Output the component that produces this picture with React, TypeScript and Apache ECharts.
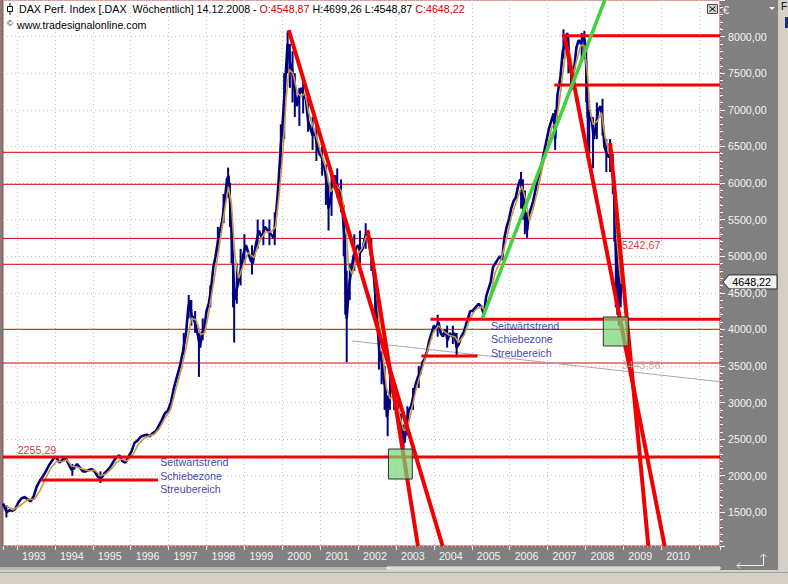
import React, { useEffect, useRef } from "react";
import * as echarts from "echarts";

const FONT = "'Liberation Sans', Arial, Helvetica, sans-serif";
const NAVY = "#000080";
const MA_COLOR = "#c89a3c";
const THIN_RED = "#d80000";
const THICK_RED = "#f00000";

const X_MIN = 1992.63;
const X_MAX = 2011.55;
const Y_MIN = 1040;
const Y_MAX = 8500;
const LAST_CLOSE = 4648.22;

// weekly-close path: [year, price]
const closes: [number, number][] = [
  [1992.63, 1620], [1992.68, 1560], [1992.73, 1500], [1992.8, 1530], [1992.87, 1520], [1992.95, 1545],
  [1993.04, 1640], [1993.12, 1690], [1993.2, 1710], [1993.28, 1680], [1993.36, 1650], [1993.44, 1720],
  [1993.52, 1850], [1993.6, 1930], [1993.68, 1990], [1993.76, 2060], [1993.84, 2140], [1993.92, 2200],
  [1994.0, 2260], [1994.06, 2230], [1994.12, 2180], [1994.2, 2220], [1994.28, 2250], [1994.36, 2160],
  [1994.44, 2080], [1994.5, 2100], [1994.58, 2160], [1994.66, 2110], [1994.74, 2060], [1994.82, 2060],
  [1994.9, 2080], [1994.98, 2090], [1995.06, 2050], [1995.14, 1980], [1995.22, 1960], [1995.3, 2030],
  [1995.38, 2070], [1995.46, 2120], [1995.54, 2190], [1995.62, 2250], [1995.7, 2280], [1995.78, 2200],
  [1995.86, 2180], [1995.94, 2260], [1996.02, 2330], [1996.1, 2450], [1996.18, 2480], [1996.26, 2530],
  [1996.34, 2550], [1996.42, 2560], [1996.5, 2540], [1996.58, 2580], [1996.66, 2610], [1996.74, 2680],
  [1996.82, 2760], [1996.9, 2850], [1996.98, 2890], [1997.06, 3000], [1997.14, 3200], [1997.22, 3350],
  [1997.3, 3500], [1997.38, 3700], [1997.46, 3950], [1997.52, 4300], [1997.56, 4400], [1997.6, 4200],
  [1997.66, 4150], [1997.72, 4050], [1997.78, 3900], [1997.83, 3750], [1997.88, 3950], [1997.94, 4000],
  [1998.0, 4250], [1998.06, 4350], [1998.12, 4550], [1998.18, 4850], [1998.24, 5000], [1998.3, 5200],
  [1998.36, 5350], [1998.42, 5500], [1998.48, 5750], [1998.54, 6050], [1998.58, 6100], [1998.62, 5750],
  [1998.66, 5350], [1998.7, 4900], [1998.74, 4400], [1998.78, 4500], [1998.84, 4650], [1998.9, 4800],
  [1998.96, 5000], [1999.04, 5150], [1999.1, 5050], [1999.16, 4950], [1999.22, 4900], [1999.3, 5150],
  [1999.38, 5350], [1999.46, 5250], [1999.54, 5400], [1999.62, 5350], [1999.7, 5300], [1999.78, 5250],
  [1999.84, 5600], [1999.9, 6000], [1999.96, 6500], [2000.02, 6900], [2000.08, 7400], [2000.14, 7900],
  [2000.2, 7650], [2000.26, 7550], [2000.32, 7300], [2000.38, 7050], [2000.44, 7200], [2000.5, 7300],
  [2000.56, 7200], [2000.62, 7150], [2000.68, 6850], [2000.74, 6750], [2000.8, 6650], [2000.86, 6700],
  [2000.92, 6500], [2000.98, 6400], [2001.04, 6350], [2001.1, 6250], [2001.16, 6050], [2001.22, 5650],
  [2001.28, 5800], [2001.34, 6050], [2001.4, 6100], [2001.46, 5950], [2001.52, 5900], [2001.58, 5700],
  [2001.64, 5250], [2001.7, 4150], [2001.76, 4600], [2001.82, 4800], [2001.88, 5000], [2001.94, 5100],
  [2002.0, 5150], [2002.06, 5050], [2002.12, 5100], [2002.18, 5250], [2002.24, 5350], [2002.3, 5150],
  [2002.36, 4950], [2002.42, 4700], [2002.48, 4300], [2002.52, 4000], [2002.56, 3700], [2002.6, 3600],
  [2002.64, 3550], [2002.68, 3300], [2002.72, 3200], [2002.76, 2800], [2002.8, 2950], [2002.86, 3200],
  [2002.92, 3150], [2002.98, 3000], [2003.04, 2900], [2003.1, 2750], [2003.16, 2600], [2003.22, 2450],
  [2003.28, 2700], [2003.34, 2900], [2003.4, 2950], [2003.46, 3100], [2003.52, 3250], [2003.58, 3350],
  [2003.64, 3400], [2003.7, 3550], [2003.76, 3600], [2003.82, 3700], [2003.88, 3850], [2003.94, 3950],
  [2004.0, 4050], [2004.06, 4000], [2004.12, 4100], [2004.18, 3950], [2004.24, 3900], [2004.3, 4000],
  [2004.36, 3850], [2004.42, 3950], [2004.48, 3900], [2004.54, 3950], [2004.6, 3750], [2004.66, 3800],
  [2004.72, 3900], [2004.78, 3950], [2004.84, 4050], [2004.9, 4150], [2004.96, 4250], [2005.02, 4250],
  [2005.1, 4300], [2005.18, 4350], [2005.26, 4300], [2005.32, 4200], [2005.38, 4450], [2005.44, 4550],
  [2005.5, 4650], [2005.56, 4850], [2005.62, 4900], [2005.68, 4950], [2005.74, 5000], [2005.8, 4950],
  [2005.86, 5250], [2005.92, 5400], [2005.98, 5500], [2006.04, 5650], [2006.1, 5750], [2006.16, 5800],
  [2006.22, 5950], [2006.28, 6050], [2006.33, 5950], [2006.38, 5700], [2006.46, 5350], [2006.5, 5550],
  [2006.56, 5650], [2006.62, 5750], [2006.68, 5900], [2006.74, 6050], [2006.8, 6150], [2006.86, 6300],
  [2006.92, 6450], [2006.98, 6600], [2007.04, 6750], [2007.1, 6850], [2007.16, 6950], [2007.2, 6600],
  [2007.26, 7200], [2007.34, 7450], [2007.4, 7800], [2007.46, 7900], [2007.52, 8050], [2007.56, 7800],
  [2007.6, 7550], [2007.64, 7450], [2007.7, 7550], [2007.76, 7850], [2007.82, 7950], [2007.88, 7900],
  [2007.94, 8000], [2007.98, 7950], [2008.02, 7600], [2008.06, 6900], [2008.1, 6850], [2008.16, 6900],
  [2008.22, 6600], [2008.28, 6800], [2008.34, 7000], [2008.4, 7050], [2008.46, 6800], [2008.5, 6500],
  [2008.56, 6400], [2008.62, 6350], [2008.68, 6450], [2008.72, 6150], [2008.76, 5800], [2008.8, 5100],
  [2008.83, 4600], [2008.86, 4900], [2008.89, 4350], [2008.93, 4500], [2008.95, 4648.22],
];

// orange moving-average line: [year, price]
const movingAvg: [number, number][] = [
  [1992.7, 1590], [1992.9, 1535], [1993.1, 1600], [1993.3, 1680], [1993.45, 1675], [1993.6, 1790],
  [1993.75, 1960], [1993.9, 2110], [1994.05, 2200], [1994.2, 2190], [1994.32, 2215], [1994.45, 2130],
  [1994.6, 2115], [1994.75, 2090], [1994.9, 2065], [1995.05, 2075], [1995.2, 2000], [1995.35, 2025],
  [1995.5, 2100], [1995.62, 2180], [1995.75, 2230], [1995.9, 2200], [1996.05, 2280], [1996.2, 2430],
  [1996.35, 2510], [1996.5, 2545], [1996.62, 2565], [1996.75, 2640], [1996.9, 2780], [1997.05, 2900],
  [1997.2, 3200], [1997.35, 3480], [1997.5, 3850], [1997.6, 4150], [1997.72, 4130], [1997.85, 3930],
  [1997.95, 3950], [1998.05, 4200], [1998.2, 4680], [1998.35, 5180], [1998.5, 5700], [1998.58, 5950],
  [1998.66, 5700], [1998.75, 5000], [1998.85, 4700], [1998.95, 4850], [1999.1, 5050], [1999.25, 4980],
  [1999.4, 5200], [1999.55, 5330], [1999.7, 5330], [1999.82, 5400], [1999.92, 5850], [2000.02, 6450],
  [2000.1, 7150], [2000.18, 7550], [2000.28, 7500], [2000.4, 7230], [2000.5, 7180], [2000.6, 7230],
  [2000.7, 6950], [2000.85, 6720], [2001.0, 6450], [2001.15, 6200], [2001.28, 5880], [2001.4, 5980],
  [2001.55, 5900], [2001.66, 5550], [2001.75, 4850], [2001.85, 4750], [2001.95, 5000], [2002.1, 5100],
  [2002.22, 5280], [2002.32, 5200], [2002.45, 4720], [2002.55, 4150], [2002.65, 3650], [2002.75, 3200],
  [2002.85, 3050], [2002.95, 3130], [2003.08, 2850], [2003.2, 2620], [2003.3, 2640], [2003.42, 2920],
  [2003.55, 3220], [2003.7, 3480], [2003.85, 3740], [2003.98, 3950], [2004.12, 4050], [2004.25, 3980],
  [2004.4, 3920], [2004.55, 3900], [2004.65, 3820], [2004.8, 3920], [2004.95, 4150], [2005.1, 4270],
  [2005.25, 4310], [2005.35, 4260], [2005.5, 4500], [2005.62, 4780], [2005.78, 4960], [2005.9, 5200],
  [2006.05, 5550], [2006.2, 5780], [2006.32, 5960], [2006.42, 5780], [2006.52, 5480], [2006.62, 5650],
  [2006.75, 5920], [2006.88, 6250], [2007.0, 6500], [2007.12, 6780], [2007.22, 6800], [2007.32, 7150],
  [2007.44, 7650], [2007.52, 7870], [2007.6, 7750], [2007.68, 7480], [2007.78, 7700], [2007.88, 7880],
  [2007.96, 7880], [2008.05, 7500], [2008.12, 7000], [2008.2, 6800], [2008.32, 6850], [2008.42, 6960],
  [2008.52, 6620], [2008.62, 6420], [2008.7, 6350], [2008.77, 5950], [2008.83, 5250], [2008.9, 4800],
  [2008.95, 4620],
];

// weekly high/low bars: [year, low, high]
const spikes: [number, number, number][] = [
  [1992.72, 1430, 1600], [1994.46, 2000, 2160], [1995.2, 1900, 2060], [1997.4, 3650, 3950],
  [1997.53, 4150, 4470], [1997.6, 4050, 4400], [1997.7, 3950, 4250], [1997.8, 3350, 3950],
  [1997.9, 3850, 4150], [1998.1, 4300, 4600], [1998.3, 5050, 5400], [1998.45, 5450, 5850],
  [1998.57, 5800, 6210], [1998.62, 5400, 6000], [1998.66, 4900, 5600], [1998.7, 4300, 5000],
  [1998.73, 3820, 4650], [1998.8, 4350, 4900], [1998.9, 4600, 5100], [1999.0, 4900, 5300],
  [1999.2, 4750, 5150], [1999.35, 5100, 5500], [1999.5, 5150, 5500], [1999.66, 5150, 5500],
  [1999.8, 5150, 5600], [1999.96, 6200, 6800], [2000.05, 6600, 7500], [2000.14, 7500, 8070],
  [2000.2, 7300, 7900], [2000.27, 7100, 7800], [2000.33, 6900, 7500], [2000.45, 6780, 7300],
  [2000.55, 6950, 7400], [2000.68, 6700, 7150], [2000.8, 6450, 6900], [2000.9, 6300, 6800],
  [2001.05, 6100, 6500], [2001.15, 5700, 6250], [2001.22, 5350, 6000], [2001.3, 5550, 6100],
  [2001.45, 5800, 6200], [2001.55, 5600, 6050], [2001.62, 5000, 5700], [2001.66, 4200, 5300],
  [2001.7, 3550, 4800], [2001.78, 4400, 4900], [2001.9, 4800, 5300], [2002.05, 4900, 5350],
  [2002.2, 5100, 5450], [2002.35, 4800, 5250], [2002.45, 4200, 4800], [2002.55, 3450, 4100],
  [2002.62, 3250, 3700], [2002.7, 2900, 3500], [2002.78, 2540, 3100], [2002.84, 2900, 3400],
  [2002.95, 2900, 3250], [2003.06, 2650, 3050], [2003.13, 2500, 2850], [2003.2, 2350, 2700],
  [2003.3, 2550, 2950], [2003.45, 2900, 3200], [2003.6, 3200, 3500], [2004.1, 3900, 4200],
  [2004.35, 3750, 4050], [2004.5, 3800, 4050], [2004.6, 3620, 3950], [2006.3, 5650, 6150],
  [2006.35, 5500, 6050], [2006.4, 5300, 5900], [2006.46, 5250, 5600], [2007.2, 6450, 7000],
  [2007.42, 7700, 8100], [2007.55, 7500, 8000], [2007.62, 7250, 7700], [2007.65, 7280, 7600],
  [2007.9, 7650, 8050], [2007.97, 7700, 8080], [2008.02, 7100, 7900], [2008.06, 6350, 7000],
  [2008.1, 6400, 7000], [2008.2, 6200, 6900], [2008.3, 6600, 7100], [2008.45, 6650, 7150],
  [2008.55, 6150, 6600], [2008.65, 6150, 6600], [2008.72, 5850, 6400], [2008.76, 5200, 6100],
  [2008.8, 4300, 5600], [2008.84, 4200, 5200], [2008.88, 4050, 4800], [2008.93, 4300, 4800],
];

const thinLevels = [6419, 5982, 5242.67, 4889, 4001, 3540];

// thick horizontal lines: [fromYear, toYear, price]
const thickLevels: [number, number, number][] = [
  [2007.39, X_MAX, 8010],
  [2007.18, X_MAX, 7339],
  [2003.91, X_MAX, 4137],
  [X_MIN, X_MAX, 2255.29],
  [1993.63, 1996.72, 1942],
  [2003.67, 2005.15, 3636],
];

// red trend lines: [year1, price1, year2, price2]
const redTrends: [number, number, number, number][] = [
  [2000.17, 8090, 2004.23, 1040],
  [2002.25, 5358, 2003.58, 1040],
  [2007.44, 8022, 2010.09, 1040],
  [2008.65, 6546, 2009.66, 1040],
];
const greenTrend: [number, number, number, number] = [2005.28, 4155, 2008.51, 8500];
const grayTrend: [number, number, number, number] = [2001.85, 3841, X_MAX, 3285];

// green boxes: [year1, price1, year2, price2]
const boxes: [number, number, number, number][] = [
  [2002.8, 2365, 2003.43, 1955],
  [2008.47, 4169, 2009.13, 3773],
];

const annotations = [
  { year: 1993.03, price: 2338, text: "2255,29", color: "#d00000" },
  { year: 1996.79, price: 1996, text: "Seitwartstrend\nSchiebezone\nStreubereich", color: "#0c0ca0" },
  { year: 2005.52, price: 3855, text: "Seitwärtstrend\nSchiebezone\nStreubereich", color: "#0c0ca0" },
  { year: 2008.97, price: 5139, text: "5242,67", color: "#d00000" },
  { year: 2008.97, price: 3513, text: "3443,56", color: "#a8a8a8" },
];

const seg = (data: number[][], color: string, width: number, z: number) => ({
  type: "line",
  data,
  symbol: "none",
  silent: true,
  z,
  clip: true,
  lineStyle: { color, width },
});

function buildOption() {
  const series: any[] = [];
  thinLevels.forEach((v) => series.push(seg([[X_MIN, v], [X_MAX, v]], THIN_RED, 1, 2)));
  series.push(seg([[grayTrend[0], grayTrend[1]], [grayTrend[2], grayTrend[3]]], "#a8a8a8", 1, 2));
  series.push({
    type: "custom",
    z: 3,
    silent: true,
    data: spikes,
    encode: { x: 0, y: [1, 2] },
    renderItem: (_p: any, api: any) => {
      const lo = api.coord([api.value(0), api.value(1)]);
      const hi = api.coord([api.value(0), api.value(2)]);
      return {
        type: "line",
        shape: { x1: lo[0], y1: lo[1], x2: hi[0], y2: hi[1] },
        style: { stroke: NAVY, lineWidth: 2 },
      };
    },
  });
  series.push(seg(closes, NAVY, 2.6, 3));
  series.push(seg(movingAvg, MA_COLOR, 1.6, 4));
  thickLevels.forEach(([a, b, v]) => series.push(seg([[a, v], [b, v]], THICK_RED, 3, 5)));
  redTrends.forEach(([a, b, c, d]) => series.push(seg([[a, b], [c, d]], THICK_RED, 4, 6)));
  series.push(seg([[greenTrend[0], greenTrend[1]], [greenTrend[2], greenTrend[3]]], "#40d040", 3.5, 6));
  series.push({
    type: "custom",
    z: 7,
    silent: true,
    data: boxes,
    encode: { x: [0, 2], y: [1, 3] },
    renderItem: (_p: any, api: any) => {
      const p1 = api.coord([api.value(0), api.value(1)]);
      const p2 = api.coord([api.value(2), api.value(3)]);
      return {
        type: "rect",
        shape: {
          x: Math.min(p1[0], p2[0]),
          y: Math.min(p1[1], p2[1]),
          width: Math.abs(p2[0] - p1[0]),
          height: Math.abs(p2[1] - p1[1]),
        },
        style: { fill: "rgba(118,214,118,0.72)", stroke: "#303030", lineWidth: 1 },
      };
    },
  });
  series.push({
    type: "scatter",
    z: 9,
    silent: true,
    symbolSize: 1,
    itemStyle: { color: "rgba(0,0,0,0)" },
    data: annotations.map((a) => ({
      value: [a.year, a.price],
      label: {
        show: true,
        formatter: a.text,
        color: a.color,
        position: [0, 0],
        align: "left",
        verticalAlign: "middle",
        fontSize: 10.7,
        fontFamily: FONT,
        lineHeight: 13.4,
      },
    })),
  });

  return {
    animation: false,
    backgroundColor: "#808080",
    grid: {
      left: 2,
      right: 68,
      top: 0,
      bottom: 38,
      show: true,
      backgroundColor: "#ffffff",
      borderColor: "#c03030",
      borderWidth: 1,
    },
    xAxis: {
      type: "value",
      min: X_MIN,
      max: X_MAX,
      minInterval: 1,
      maxInterval: 1,
      axisLine: { show: false },
      axisTick: { show: true, length: 4, lineStyle: { color: "#e8e8e8" } },
      axisLabel: {
        color: "#f4f4f4",
        fontSize: 10.7,
        fontFamily: FONT,
        align: "left",
        padding: [0, 0, 0, 5],
        margin: 4,
        formatter: (v: number) =>
          Math.abs(v - Math.round(v)) < 1e-6 && v <= 2010.5 ? String(Math.round(v)) : "",
      },
      splitLine: { show: true, lineStyle: { color: "#c4c4c4", type: [1, 3] } },
    },
    yAxis: {
      type: "value",
      position: "right",
      min: Y_MIN,
      max: Y_MAX,
      minInterval: 500,
      maxInterval: 500,
      axisLine: { show: false },
      axisTick: { show: true, length: 5, lineStyle: { color: "#ffffff" } },
      minorTick: { show: true, splitNumber: 5, length: 3, lineStyle: { color: "#ffffff" } },
      axisLabel: {
        color: "#f4f4f4",
        fontSize: 10.7,
        fontFamily: FONT,
        margin: 8,
        formatter: (v: number) =>
          Math.abs(v % 500) < 1e-6 && v > Y_MIN && v < Y_MAX ? v.toFixed(2).replace(".", ",") : "",
      },
      splitLine: { show: true, lineStyle: { color: "#c4c4c4", type: [1, 3] } },
    },
    series,
  };
}

function buildGraphics(yTag: number) {
  const white = "#f4f4f4";
  return [
    // right and bottom window strips
    { type: "rect", shape: { x: 778, y: 0, width: 10, height: 584 }, style: { fill: "#d4d0c8" }, silent: true },
    { type: "rect", shape: { x: 785, y: 17, width: 3, height: 11 }, style: { fill: "#1a2a78" }, silent: true },
    { type: "text", x: 781, y: 1, style: { text: "F", fill: "#000", fontSize: 10, fontFamily: FONT }, silent: true },
    { type: "rect", shape: { x: 0, y: 570, width: 788, height: 14 }, style: { fill: "#d4d0c8" }, silent: true },
    { type: "line", shape: { x1: 0, y1: 572.5, x2: 788, y2: 572.5 }, style: { stroke: "#a0a0a0", lineWidth: 1 }, silent: true },
    { type: "rect", shape: { x: 0, y: 567, width: 720, height: 3 }, style: { fill: "#b8b8b8" }, silent: true },
    { type: "rect", shape: { x: 387, y: 567, width: 333, height: 2 }, style: { fill: "none", stroke: "#ffffff", lineWidth: 1 }, silent: true },
    // header
    { type: "line", shape: { x1: 10, y1: 3, x2: 10, y2: 15 }, style: { stroke: "#000", lineWidth: 1 }, silent: true },
    { type: "rect", shape: { x: 7.5, y: 6.5, width: 5, height: 5 }, style: { fill: "#fff", stroke: "#000", lineWidth: 1 }, silent: true },
    {
      type: "text",
      x: 19,
      y: 3,
      silent: true,
      style: {
        text: "{b|DAX Perf. Index [.DAX  Wöchentlich] 14.12.2008 - }{r|O:4548,87}{b| H:4699,26 L:4548,87 }{r|C:4648,22}",
        rich: {
          b: { fill: "#000000", fontSize: 10.7, fontFamily: FONT },
          r: { fill: "#d00000", fontSize: 10.7, fontFamily: FONT },
        },
      },
    },
    { type: "text", x: 7, y: 19, silent: true, style: { text: "©", fill: "#000", fontSize: 8, fontFamily: FONT } },
    { type: "text", x: 17, y: 19, silent: true, style: { text: "www.tradesignalonline.com", fill: "#000", fontSize: 10.7, fontFamily: FONT } },
    // close box
    { type: "rect", shape: { x: 707.5, y: 4.5, width: 10, height: 9 }, style: { fill: "#d4d0c8", stroke: "#505050", lineWidth: 1 }, silent: true },
    { type: "line", shape: { x1: 709.5, y1: 6.5, x2: 715.5, y2: 11.5 }, style: { stroke: "#000", lineWidth: 1 }, silent: true },
    { type: "line", shape: { x1: 715.5, y1: 6.5, x2: 709.5, y2: 11.5 }, style: { stroke: "#000", lineWidth: 1 }, silent: true },
    // currency + dropdown
    { type: "text", x: 723, y: 4, silent: true, style: { text: "€", fill: white, fontSize: 10.7, fontFamily: FONT } },
    { type: "polygon", shape: { points: [[769, 7], [775, 7], [772, 10]] }, style: { fill: white }, silent: true },
    // bottom-right arrow icon
    { type: "polyline", shape: { points: [[737, 565.5], [763.5, 565.5], [763.5, 554]] }, style: { stroke: white, lineWidth: 1, fill: "none" }, silent: true },
    { type: "polyline", shape: { points: [[740, 562.5], [737, 565.5], [740, 568.5]] }, style: { stroke: white, lineWidth: 1, fill: "none" }, silent: true },
    { type: "polyline", shape: { points: [[760.5, 557], [763.5, 554], [766.5, 557]] }, style: { stroke: white, lineWidth: 1, fill: "none" }, silent: true },
    // last price tag
    {
      type: "polygon",
      silent: true,
      shape: { points: [[723, yTag], [729, yTag - 7], [777, yTag - 7], [777, yTag + 7], [729, yTag + 7]] },
      style: { fill: "#f2f2f2", stroke: "#303030", lineWidth: 1 },
    },
    {
      type: "text",
      silent: true,
      x: 771,
      y: yTag,
      style: {
        text: LAST_CLOSE.toFixed(2).replace(".", ","),
        fill: "#000000",
        fontSize: 10.7,
        fontFamily: FONT,
        align: "right",
        verticalAlign: "middle",
      },
    },
  ];
}

export default function App() {
  const ref = useRef<HTMLDivElement>(null);
  useEffect(() => {
    const el = ref.current;
    if (!el) return;
    const chart = echarts.init(el, null, { renderer: "svg" });
    chart.setOption(buildOption() as any);
    const yTag = chart.convertToPixel({ yAxisIndex: 0 }, LAST_CLOSE) as unknown as number;
    chart.setOption({ graphic: buildGraphics(yTag) } as any);
    return () => chart.dispose();
  }, []);
  return (
    <div
      ref={ref}
      style={{ position: "fixed", left: 0, top: 0, width: 788, height: 584, background: "#808080" }}
    />
  );
}
